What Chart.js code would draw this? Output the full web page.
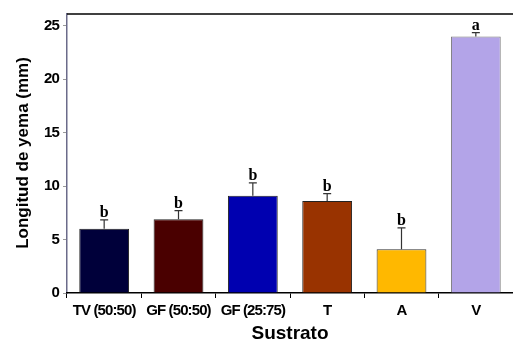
<!DOCTYPE html>
<html>
<head>
<meta charset="utf-8">
<script src="https://cdn.jsdelivr.net/npm/chart.js@4"></script>
<style>
  html, body { margin: 0; padding: 0; background: #fff; }
  #wrap { width: 513px; height: 344px; }
</style>
</head>
<body>
<div id="wrap"><canvas id="c" width="513" height="344"></canvas></div>
<script>
const categories = ["TV (50:50)", "GF (50:50)", "GF (25:75)", "T", "A", "V"];
const values = [6.0, 6.9, 9.1, 8.6, 4.1, 24.0];
const errors = [0.85, 0.8, 1.2, 0.7, 2.0, 0.35];
const letters = ["b", "b", "b", "b", "b", "a"];
const yTicks = [0, 5, 10, 15, 20, 25];
const barColors = ["#00003a", "#4a0000", "#0000b0", "#993300", "#ffb800", "#b3a4e8"];
const borderColors = ["#222", "#222", "#222", "#222", "#333", "#777"];

const tickFont = { family: "'Liberation Sans', Arial, sans-serif", size: 15, weight: "bold" };

// tighten tick labels a bit, the original uses a narrow face
const narrow = {
  id: "narrow",
  beforeDraw (chart) { chart.ctx.letterSpacing = "-0.9px"; },
  afterDraw (chart) { chart.ctx.letterSpacing = "0px"; },
};

const extras = {
  id: "extras",
  afterDatasetsDraw (chart) {
    const { ctx, chartArea, scales } = chart;
    const meta = chart.getDatasetMeta(0);
    ctx.save();
    ctx.letterSpacing = "0px";
    meta.data.forEach((bar, i) => {
      const yTop = scales.y.getPixelForValue(values[i] + errors[i]);
      const yBar = scales.y.getPixelForValue(values[i]);
      ctx.strokeStyle = "#333";
      ctx.lineWidth = 1.2;
      ctx.beginPath();
      ctx.moveTo(bar.x, yBar);
      ctx.lineTo(bar.x, yTop);
      ctx.moveTo(bar.x - 4, yTop);
      ctx.lineTo(bar.x + 4, yTop);
      ctx.stroke();
      ctx.fillStyle = "#000";
      ctx.font = "bold 16px 'Liberation Serif', 'DejaVu Serif', serif";
      ctx.textAlign = "center";
      ctx.textBaseline = "alphabetic";
      ctx.fillText(letters[i], bar.x, yTop - 3);
    });
    // top border
    ctx.strokeStyle = "#000";
    ctx.lineWidth = 1.5;
    ctx.beginPath();
    ctx.moveTo(chartArea.left, chartArea.top);
    ctx.lineTo(chartArea.right, chartArea.top);
    ctx.stroke();
    // axis titles
    ctx.fillStyle = "#000";
    ctx.font = "bold 17px 'Liberation Sans', Arial, sans-serif";
    ctx.textAlign = "center";
    ctx.textBaseline = "middle";
    ctx.save();
    ctx.translate(23, 153);
    ctx.rotate(-Math.PI / 2);
    ctx.fillText("Longitud de yema (mm)", 0, 0);
    ctx.restore();
    ctx.font = "bold 19px 'Liberation Sans', Arial, sans-serif";
    ctx.fillText("Sustrato", (chartArea.left + chartArea.right) / 2, 334);
    ctx.restore();
  },
};

new Chart(document.getElementById("c"), {
  type: "bar",
  data: {
    labels: categories,
    datasets: [{
      data: values,
      backgroundColor: barColors,
      borderColor: borderColors,
      borderWidth: 1,
      barPercentage: 0.67,
      categoryPercentage: 1,
    }],
  },
  options: {
    responsive: false,
    animation: false,
    layout: { padding: { top: 14, right: 0, left: 0, bottom: 0 } },
    plugins: {
      legend: { display: false },
      tooltip: { enabled: false },
    },
    scales: {
      y: {
        min: 0,
        max: 26.1,
        afterFit (scale) { scale.width = 67; },
        afterBuildTicks (scale) {
          scale.ticks = yTicks.map((v) => ({ value: v }));
        },
        border: { display: true, color: "#6b6b8a", width: 1.5 },
        grid: { display: true, drawOnChartArea: false, drawTicks: true, tickLength: 4, color: "#999" },
        ticks: { color: "#000", font: tickFont, padding: 4 },
      },
      x: {
        afterFit (scale) { scale.height = 51; },
        border: { display: true, color: "#000", width: 1.5 },
        grid: { display: true, drawOnChartArea: false, drawTicks: true, tickLength: 5, color: "#000" },
        ticks: { color: "#000", font: tickFont, padding: 4, maxRotation: 0, autoSkip: false },
      },
    },
  },
  plugins: [narrow, extras],
});
</script>
</body>
</html>
